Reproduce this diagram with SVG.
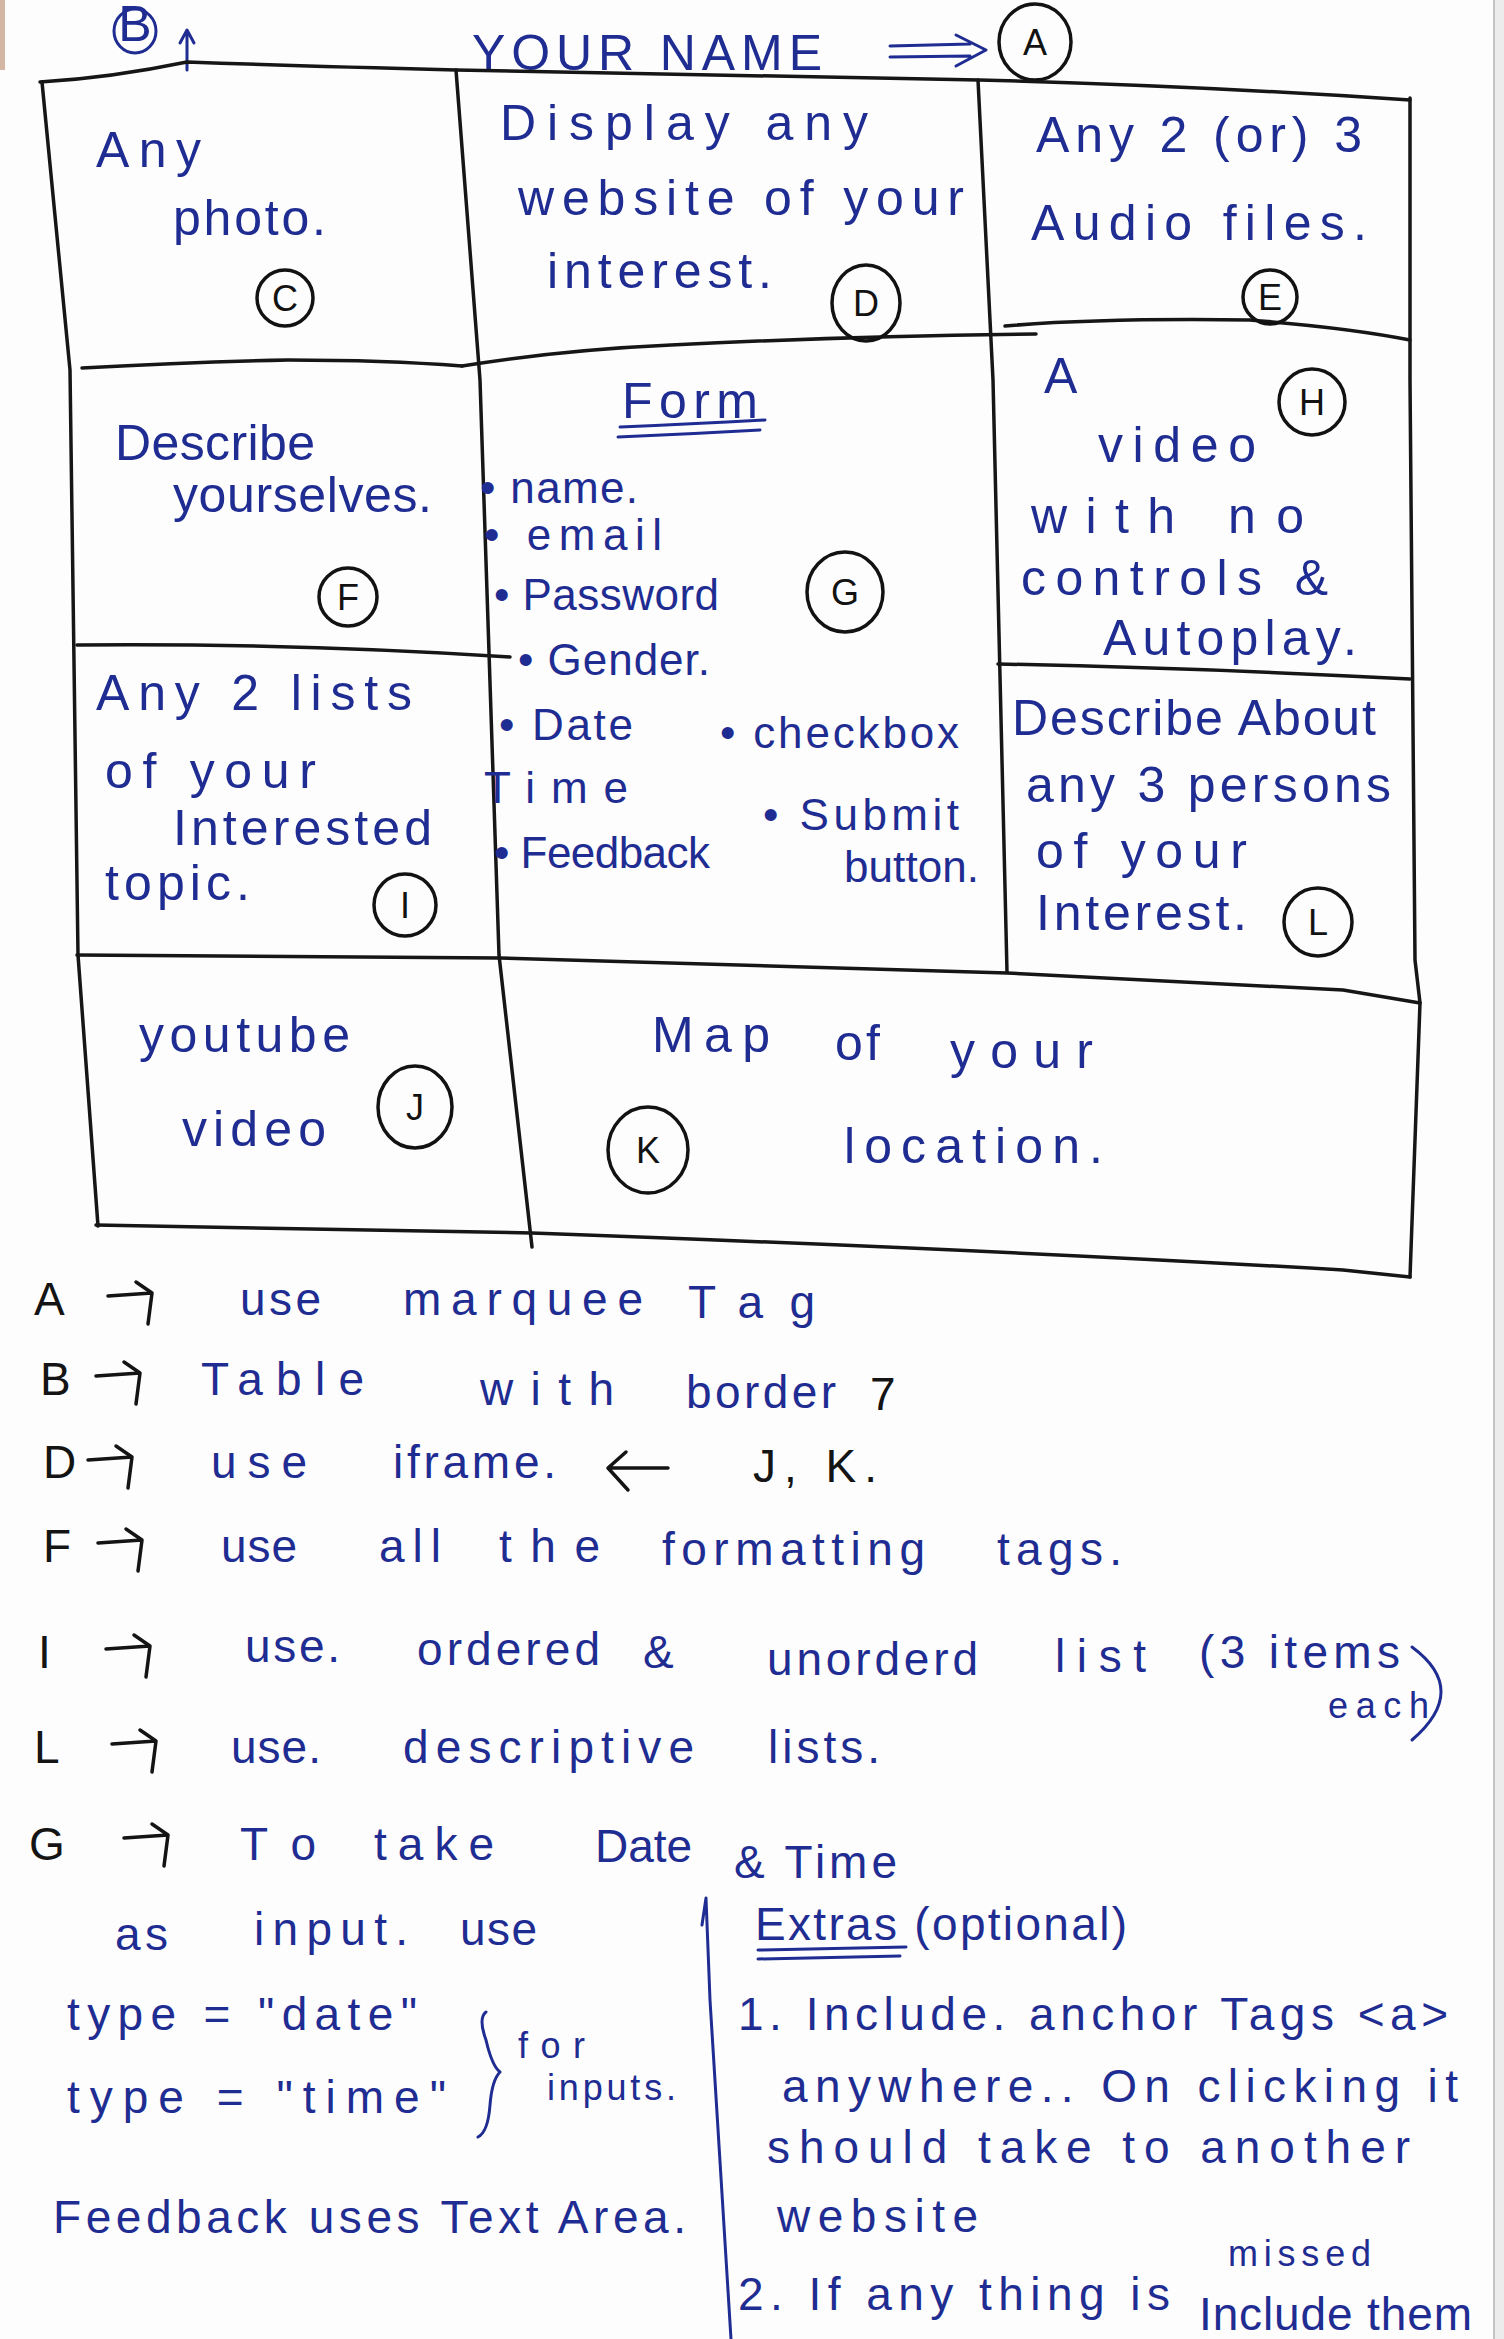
<svg xmlns="http://www.w3.org/2000/svg" width="1504" height="2339" viewBox="0 0 1504 2339">
  <style>
    .ink { fill: #1f2c92; font-family: "Liberation Sans", "DejaVu Sans", sans-serif; font-size: 50px; }
    .list { font-size: 44px; }
    .note { font-size: 46px; }
    .small { font-size: 36px; }
    .blk { fill: #141414; }
    .grid { stroke: #161616; stroke-width: 3.5; fill: none; stroke-linecap: round; stroke-linejoin: round; }
    .ring { stroke: #121212; stroke-width: 3.5; fill: none; }
    .lbl { fill: #121212; font-family: "Liberation Sans", "DejaVu Sans", sans-serif; font-size: 36px; text-anchor: middle; }
    .pen { stroke: #1f2c92; stroke-width: 3; fill: none; stroke-linecap: round; stroke-linejoin: round; }
    .pen-k { stroke: #141414; stroke-width: 3.5; fill: none; stroke-linecap: round; stroke-linejoin: round; }
  </style>
  <defs>
    <!-- hand-drawn style right arrow used in the notes list -->
    <path id="harrow" d="M0,0 L44,-3 M28,-14 L44,-3 L40,28"/>
  </defs>

  <!-- paper -->
  <rect x="0" y="0" width="1504" height="2339" fill="#fdfdfd"/>
  <rect x="1494" y="0" width="10" height="2339" fill="#ececec"/>
  <line x1="1494" y1="0" x2="1494" y2="2339" stroke="#c4c4c4" stroke-width="2"/>
  <rect x="0" y="0" width="5" height="70" fill="#b9876a" opacity="0.6"/>

  <!-- heading -->
  <g id="header">
    <ellipse class="pen" cx="135" cy="31" rx="21" ry="22"/>
    <text class="ink" x="135" y="41" font-size="27" text-anchor="middle">B</text>
    <path class="pen" d="M187,70 L187,32 M180,43 L187,30 L194,43"/>
    <text class="ink" x="472" y="70" font-size="52" textLength="350" fill="#243080">YOUR NAME</text>
    <path class="pen" d="M890,46 L970,44 M890,57 L970,56 M956,35 L986,50 L956,66"/>
    <ellipse class="ring" cx="1035" cy="42" rx="36" ry="38"/>
    <text class="lbl" x="1035" y="55">A</text>
  </g>

  <!-- table ruling -->
  <g id="table-grid">
    <path class="grid" d="M40,82 Q110,78 187,62 Q300,66 456,70 L979,80 Q1200,86 1410,100"/>
    <path class="grid" d="M42,82 L70,370 L78,955 L98,1226"/>
    <path class="grid" d="M456,70 L480,380 L499,955 L532,1247"/>
    <path class="grid" d="M978,80 L993,380 L1007,972"/>
    <path class="grid" d="M1410,98 L1410,380 L1415,960 L1420,1003 L1410,1277"/>
    <path class="grid" d="M82,368 Q190,362 288,360 Q384,360 462,366"/>
    <path class="grid" d="M462,366 Q560,350 671,345 Q850,336 1036,334"/>
    <path class="grid" d="M1005,326 Q1100,318 1250,320 Q1350,328 1410,340"/>
    <path class="grid" d="M77,645 Q290,643 510,657"/>
    <path class="grid" d="M998,664 Q1200,668 1410,679"/>
    <path class="grid" d="M77,955 L499,958 L1007,973 Q1200,983 1343,990 L1420,1003"/>
    <path class="grid" d="M96,1225 L532,1233 Q1000,1250 1343,1270 L1410,1277"/>
  </g>

  <g id="cell-c">
    <text class="ink" x="96" y="167" textLength="105">Any</text>
    <text class="ink" x="173" y="235" textLength="153">photo.</text>
    <circle class="ring" cx="285" cy="298" r="28"/>
    <text class="lbl" x="285" y="311">C</text>
  </g>

  <g id="cell-d">
    <text class="ink" x="500" y="140" textLength="368">Display any</text>
    <text class="ink" x="518" y="215" textLength="446">website of your</text>
    <text class="ink" x="547" y="288" textLength="225">interest.</text>
    <ellipse class="ring" cx="866" cy="303" rx="34" ry="38"/>
    <text class="lbl" x="866" y="316">D</text>
  </g>

  <g id="cell-e">
    <text class="ink" x="1036" y="152" textLength="326">Any 2 (or) 3</text>
    <text class="ink" x="1031" y="240" textLength="336">Audio files.</text>
    <circle class="ring" cx="1270" cy="297" r="27"/>
    <text class="lbl" x="1270" y="310">E</text>
  </g>

  <g id="cell-f">
    <text class="ink" x="115" y="460" textLength="200">Describe</text>
    <text class="ink" x="173" y="512" textLength="259">yourselves.</text>
    <circle class="ring" cx="348" cy="597" r="29"/>
    <text class="lbl" x="348" y="610">F</text>
  </g>

  <g id="cell-g">
    <text class="ink" x="622" y="418" textLength="136">Form</text>
    <path class="pen" d="M620,427 Q690,424 765,420 M618,437 Q690,434 760,430"/>
    <text class="ink list" x="480" y="503" textLength="158">• name.</text>
    <text class="ink list" x="484" y="550" textLength="178">• email</text>
    <text class="ink list" x="494" y="610" textLength="225">• Password</text>
    <text class="ink list" x="518" y="675" textLength="192">• Gender.</text>
    <text class="ink list" x="499" y="740" textLength="134">• Date</text>
    <text class="ink list" x="720" y="748" textLength="239">• checkbox</text>
    <text class="ink list" x="484" y="803" textLength="144">Time</text>
    <text class="ink list" x="494" y="868" textLength="216">• Feedback</text>
    <text class="ink list" x="763" y="830" textLength="196">• Submit</text>
    <text class="ink list" x="844" y="882" textLength="135">button.</text>
    <ellipse class="ring" cx="845" cy="592" rx="38" ry="40"/>
    <text class="lbl" x="845" y="605">G</text>
  </g>

  <g id="cell-h">
    <text class="ink" x="1044" y="393" textLength="75">A</text>
    <text class="ink" x="1098" y="462" textLength="158">video</text>
    <text class="ink" x="1031" y="533" textLength="144">with</text>
    <text class="ink" x="1228" y="533" textLength="76">no</text>
    <text class="ink" x="1021" y="595" textLength="307">controls &amp;</text>
    <text class="ink" x="1103" y="655" textLength="254">Autoplay.</text>
    <circle class="ring" cx="1312" cy="402" r="33"/>
    <text class="lbl" x="1312" y="415">H</text>
  </g>

  <g id="cell-i">
    <text class="ink" x="96" y="710" textLength="316">Any 2 lists</text>
    <text class="ink" x="105" y="788" textLength="211">of your</text>
    <text class="ink" x="173" y="845" textLength="259">Interested</text>
    <text class="ink" x="105" y="900" textLength="145">topic.</text>
    <circle class="ring" cx="405" cy="905" r="31"/>
    <text class="lbl" x="405" y="918">I</text>
  </g>

  <g id="cell-l">
    <text class="ink" x="1012" y="735" textLength="364">Describe About</text>
    <text class="ink" x="1026" y="802" textLength="365">any 3 persons</text>
    <text class="ink" x="1036" y="868" textLength="211">of your</text>
    <text class="ink" x="1036" y="930" textLength="211">Interest.</text>
    <circle class="ring" cx="1318" cy="922" r="34"/>
    <text class="lbl" x="1318" y="935">L</text>
  </g>

  <g id="cell-j">
    <text class="ink" x="139" y="1052" textLength="211">youtube</text>
    <text class="ink" x="182" y="1146" textLength="144">video</text>
    <ellipse class="ring" cx="415" cy="1107" rx="37" ry="41"/>
    <text class="lbl" x="415" y="1120">J</text>
  </g>

  <g id="cell-k">
    <text class="ink" x="652" y="1052" textLength="118">Map</text>
    <text class="ink" x="835" y="1060" textLength="45">of</text>
    <text class="ink" x="950" y="1068" textLength="143">your</text>
    <text class="ink" x="844" y="1163" textLength="259">location.</text>
    <ellipse class="ring" cx="648" cy="1150" rx="40" ry="43"/>
    <text class="lbl" x="648" y="1163">K</text>
  </g>

  <!-- notes: letter keys with their arrows -->
  <g id="note-keys">
    <text class="ink note blk" x="34" y="1315">A</text>
    <text class="ink note blk" x="40" y="1395">B</text>
    <text class="ink note blk" x="43" y="1478">D</text>
    <text class="ink note blk" x="43" y="1562">F</text>
    <text class="ink note blk" x="38" y="1668">I</text>
    <text class="ink note blk" x="34" y="1763">L</text>
    <text class="ink note blk" x="29" y="1860">G</text>
  </g>
  <g id="note-arrows" class="pen-k">
    <use href="#harrow" x="108" y="1296"/>
    <use href="#harrow" x="96" y="1376"/>
    <use href="#harrow" x="88" y="1460"/>
    <use href="#harrow" x="98" y="1543"/>
    <use href="#harrow" x="106" y="1649"/>
    <use href="#harrow" x="112" y="1744"/>
    <use href="#harrow" x="124" y="1838"/>
    <path d="M668,1468 L610,1468 M626,1452 L608,1468 L628,1490"/>
  </g>

  <g id="notes">
    <text class="ink note" x="240" y="1315" textLength="81">use</text>
    <text class="ink note" x="403" y="1315" textLength="240">marquee</text>
    <text class="ink note" x="688" y="1318" textLength="127">Tag</text>

    <text class="ink note" x="201" y="1395" textLength="163">Table</text>
    <text class="ink note" x="480" y="1405" textLength="134">with</text>
    <text class="ink note" x="686" y="1408" textLength="150">border</text>
    <text class="ink note blk" x="870" y="1410" textLength="34">7</text>

    <text class="ink note" x="211" y="1478" textLength="96">use</text>
    <text class="ink note" x="393" y="1478" textLength="163">iframe.</text>
    <text class="ink note blk" x="753" y="1482" textLength="124">J, K.</text>

    <text class="ink note" x="221" y="1562" textLength="76">use</text>
    <text class="ink note" x="379" y="1562" textLength="62">all</text>
    <text class="ink note" x="499" y="1562" textLength="101">the</text>
    <text class="ink note" x="662" y="1565" textLength="263">formatting</text>
    <text class="ink note" x="997" y="1565" textLength="125">tags.</text>

    <text class="ink note" x="245" y="1662" textLength="95">use.</text>
    <text class="ink note" x="417" y="1665" textLength="183">ordered</text>
    <text class="ink note" x="643" y="1668" textLength="38">&amp;</text>
    <text class="ink note" x="767" y="1675" textLength="211">unorderd</text>
    <text class="ink note" x="1055" y="1672" textLength="91">list</text>
    <text class="ink note" x="1199" y="1668" textLength="201">(3 items</text>
    <text class="ink small" x="1328" y="1718" textLength="101">each</text>
    <path class="pen" d="M1412,1647 Q1470,1690 1412,1740"/>

    <text class="ink note" x="231" y="1763" textLength="90">use.</text>
    <text class="ink note" x="403" y="1763" textLength="291">descriptive</text>
    <text class="ink note" x="768" y="1763" textLength="112">lists.</text>

    <text class="ink note" x="240" y="1860" textLength="76">To</text>
    <text class="ink note" x="374" y="1860" textLength="120">take</text>
    <text class="ink note" x="595" y="1862">Date</text>
    <text class="ink note" x="734" y="1878" textLength="163">&amp; Time</text>

    <text class="ink note" x="115" y="1950" textLength="53">as</text>
    <text class="ink note" x="254" y="1945" textLength="154">input.</text>
    <text class="ink note" x="460" y="1945" textLength="77">use</text>

    <text class="ink note" x="67" y="2030" textLength="350">type = "date"</text>
    <text class="ink note" x="67" y="2113" textLength="379">type = "time"</text>
    <path class="pen" d="M486,2012 Q478,2018 486,2040 Q492,2066 500,2072 Q492,2080 490,2105 Q488,2132 478,2137"/>
    <text class="ink small" x="518" y="2058" textLength="67">for</text>
    <text class="ink small" x="547" y="2100" textLength="129">inputs.</text>

    <text class="ink note" x="53" y="2233" textLength="633">Feedback uses Text Area.</text>
  </g>

  <g id="extras">
    <path class="pen" d="M706,1898 L710,2000 L731,2339 M706,1898 L702,1925"/>
    <text class="ink note" x="755" y="1940" textLength="372">Extras (optional)</text>
    <path class="pen" d="M758,1950 L906,1947 M758,1959 L900,1956"/>
    <text class="ink note" x="738" y="2030" textLength="710">1. Include. anchor Tags &lt;a&gt;</text>
    <text class="ink note" x="782" y="2102" textLength="676">anywhere.. On clicking it</text>
    <text class="ink note" x="767" y="2163" textLength="643">should take to another</text>
    <text class="ink note" x="777" y="2232" textLength="201">website</text>
    <text class="ink note" x="738" y="2310" textLength="432">2. If any thing is</text>
    <text class="ink small" x="1228" y="2266" textLength="143">missed</text>
    <text class="ink note" x="1199" y="2330" textLength="273">Include them</text>
  </g>
</svg>
